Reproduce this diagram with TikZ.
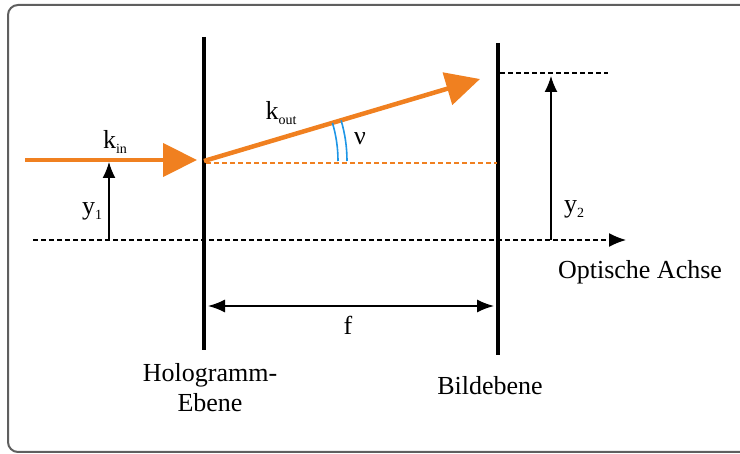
\documentclass[tikz,border=0pt]{standalone}
\usepackage{fontspec}
\setmainfont{Liberation Serif}
\usetikzlibrary{arrows.meta}
\definecolor{orangestrahl}{RGB}{240,128,32}
\definecolor{blauwinkel}{RGB}{30,150,230}
\definecolor{rahmengrau}{RGB}{95,95,95}
\newcommand{\tiefindex}[1]{\raisebox{-0.45ex}{\fontsize{14}{14}\selectfont #1}}

\begin{document}
\begin{tikzpicture}[x=1pt, y=-1pt, >={Latex[length=16pt,width=13pt]},
    every node/.style={font=\fontsize{26}{30}\selectfont},
    ebene/.style={line width=3.5pt},
    strahl/.style={draw=orangestrahl, line width=4.5pt, -{Triangle[length=34pt,width=33pt]}},
    hilfslinie/.style={line width=1.4pt, dash pattern=on 5pt off 3pt},
    masspfeil/.style={line width=1.4pt}]
        \clip (0,0) rectangle (740,454);
        % Rahmen
        \draw[rahmengrau, line width=2pt, rounded corners=10pt] (8,5) rectangle (760,452);

        % Hologramm-Ebene und Bildebene
        \coordinate (holoOben) at (204,37);
        \coordinate (holoUnten) at (204,350);
        \coordinate (bildOben) at (498,43);
        \coordinate (bildUnten) at (498,355);
        \draw[ebene] (holoOben) -- (holoUnten);
        \draw[ebene] (bildOben) -- (bildUnten);

        % Optische Achse
        \coordinate (achseLinks) at (33,240);
        \coordinate (achseRechts) at (626,240);
        \draw[hilfslinie, -{Latex[length=17pt,width=14pt]}] (achseLinks) -- (achseRechts);

        % Strahlen
        \coordinate (kinStart) at (25,160);
        \coordinate (kinSpitze) at (197,160);
        \coordinate (auftreff) at (204,161);
        \coordinate (koutSpitze) at (480,79);
        \draw[strahl] (kinStart) -- (kinSpitze);
        \draw[strahl] (auftreff) -- (koutSpitze);
        \coordinate (hilfLinks) at (206,163);
        \coordinate (hilfRechts) at (497,163);
        \draw[orangestrahl, line width=1.8pt, dash pattern=on 5pt off 3pt] (hilfLinks) -- (hilfRechts);

        % Winkel
        \draw[blauwinkel, line width=1.6pt] ([xshift=134pt]auftreff) arc[start angle=0, end angle=-16.5, radius=134];
        \draw[blauwinkel, line width=1.6pt] ([xshift=143pt]auftreff) arc[start angle=0, end angle=-16.5, radius=143];

        % Hoehen y1, y2
        \coordinate (yEinsFuss) at (109,240);
        \coordinate (yEinsSpitze) at (109,162);
        \draw[masspfeil, ->] (yEinsFuss) -- (yEinsSpitze);
        \coordinate (yZweiFuss) at (551,240);
        \coordinate (yZweiSpitze) at (551,76);
        \draw[masspfeil, ->] (yZweiFuss) -- (yZweiSpitze);
        \coordinate (bildpunkt) at (500,73);
        \coordinate (bildpunktRechts) at (608,73);
        \draw[hilfslinie] (bildpunkt) -- (bildpunktRechts);

        % Brennweite f
        \coordinate (fLinks) at (208,306);
        \coordinate (fRechts) at (494,306);
        \draw[masspfeil, {Latex[length=17pt,width=13pt]}-{Latex[length=17pt,width=13pt]}] (fLinks) -- (fRechts);

        % Beschriftungen
        \node (kin) at (115,142) {k\tiefindex{in}};
        \node (kout) at (281,113) {k\tiefindex{out}};
        \node (nu) at (360,139) {ν};
        \node (yeins) at (92,211) {y\tiefindex{1}};
        \node (yzwei) at (574,209) {y\tiefindex{2}};
        \node (brennweite) at (348,325) {f};
        \node[align=center] (holo) at (210,388) {Hologramm-\\Ebene};
        \node (bild) at (490,386) {Bildebene};
        \node (achse) at (640,272) {Optische Achse};
    \end{tikzpicture}
\end{document}
